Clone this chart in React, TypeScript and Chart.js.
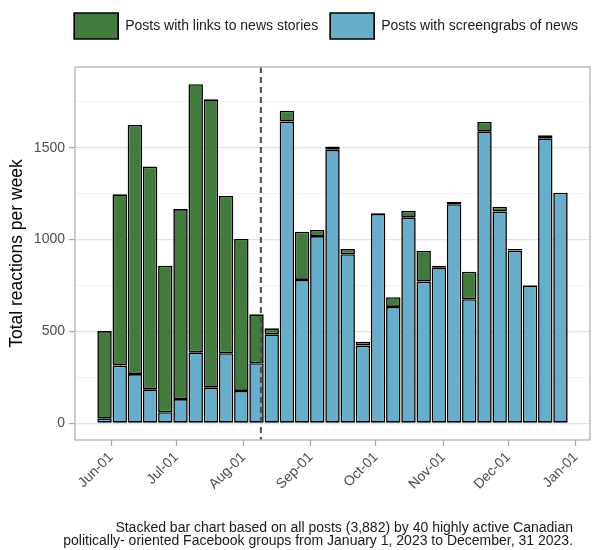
import { useEffect, useRef } from 'react';
import { Chart, registerables } from 'chart.js';

Chart.register(...registerables);

// ---- Data ----
const weekStarts = [
  '2023-05-29', '2023-06-05', '2023-06-12', '2023-06-19', '2023-06-26',
  '2023-07-03', '2023-07-10', '2023-07-17', '2023-07-24', '2023-07-31',
  '2023-08-07', '2023-08-14', '2023-08-21', '2023-08-28', '2023-09-04',
  '2023-09-11', '2023-09-18', '2023-09-25', '2023-10-02', '2023-10-09',
  '2023-10-16', '2023-10-23', '2023-10-30', '2023-11-06', '2023-11-13',
  '2023-11-20', '2023-11-27', '2023-12-04', '2023-12-11', '2023-12-18',
  '2023-12-25',
];

const screengrabReactions = [
  25, 314, 268, 185, 60, 132, 386, 194, 381, 176,
  327, 484, 1642, 780, 1019, 1488, 920, 423, 1140, 633,
  1119, 771, 849, 1192, 675, 1587, 1152, 940, 750, 1551,
  1255,
];

const linkReactions = [
  477, 932, 1356, 1212, 798, 1034, 1459, 1569, 856, 827,
  266, 33, 59, 263, 33, 18, 29, 21, 5, 53,
  37, 167, 9, 14, 150, 53, 27, 9, 3, 17,
  0,
];

const seriesLabels = ['Posts with screengrabs of news', 'Posts with links to news stories'];

const monthTickDates = [
  '2023-06-01', '2023-07-01', '2023-08-01', '2023-09-01',
  '2023-10-01', '2023-11-01', '2023-12-01', '2024-01-01',
];
const monthTickLabels = ['Jun-01', 'Jul-01', 'Aug-01', 'Sep-01', 'Oct-01', 'Nov-01', 'Dec-01', 'Jan-01'];

const yGridValues = [0, 250, 500, 750, 1000, 1250, 1500, 1750];
const yLabelValues = [0, 500, 1000, 1500];

const banDate = '2023-08-09';

const yAxisTitle = 'Total reactions per week';
const captionLines = [
  'Stacked bar chart based on all posts (3,882) by 40 highly active Canadian',
  'politically- oriented Facebook groups from January 1, 2023 to December, 31 2023.',
];

// ---- Helpers ----
const DAY_MS = 86400000;
const ORIGIN = Date.UTC(2023, 5, 1);
const toDay = (iso: string) => (Date.parse(iso + 'T00:00:00Z') - ORIGIN) / DAY_MS;

const FONT = '"Liberation Sans", Arial, Helvetica, sans-serif';
const GREEN = '#437a3e';
const BLUE = '#68adc9';

export default function App() {
  const canvasRef = useRef<HTMLCanvasElement | null>(null);

  useEffect(() => {
    document.body.style.margin = '0';
    const canvas = canvasRef.current;
    if (!canvas) return;

    const tickDays = monthTickDates.map(toDay);
    const banDay = toDay(banDate);

    const frameAndLine = {
      id: 'frameAndLine',
      afterDatasetsDraw(chart: any) {
        const { ctx, chartArea } = chart;
        const x = chart.scales.x.getPixelForValue(banDay);
        ctx.save();
        ctx.strokeStyle = '#4a4a4a';
        ctx.lineWidth = 2;
        ctx.setLineDash([6, 4]);
        ctx.beginPath();
        ctx.moveTo(x, chartArea.top);
        ctx.lineTo(x, chartArea.bottom);
        ctx.stroke();
        ctx.setLineDash([]);
        ctx.strokeStyle = '#b8b8b8';
        ctx.lineWidth = 1.4;
        ctx.strokeRect(chartArea.left, chartArea.top, chartArea.right - chartArea.left, chartArea.bottom - chartArea.top);
        ctx.restore();
      },
      afterDraw(chart: any) {
        const { ctx } = chart;
        ctx.save();
        ctx.fillStyle = '#1a1a1a';
        ctx.font = '14px ' + FONT;
        ctx.textAlign = 'right';
        ctx.textBaseline = 'middle';
        captionLines.forEach((line, i) => {
          ctx.fillText(line, 573, 528 + i * 13.5);
        });
        ctx.restore();
      },
    };

    const barStyle = {
      borderColor: '#000000',
      borderWidth: 1.6,
      borderSkipped: false,
      barPercentage: 0.95,
      categoryPercentage: 1,
    };

    const chart = new Chart(canvas, {
      type: 'bar',
      data: {
        datasets: [
          {
            label: seriesLabels[0],
            data: weekStarts.map((d, i) => ({ x: toDay(d), y: screengrabReactions[i] })),
            backgroundColor: BLUE,
            ...barStyle,
          },
          {
            label: seriesLabels[1],
            data: weekStarts.map((d, i) => ({ x: toDay(d), y: linkReactions[i] })),
            backgroundColor: GREEN,
            ...barStyle,
          },
        ],
      },
      options: {
        animation: false,
        responsive: false,
        maintainAspectRatio: false,
        layout: { padding: { top: 1, left: 0, right: 6, bottom: 40 } },
        plugins: {
          legend: {
            display: true,
            position: 'top',
            align: 'end',
            reverse: true,
            labels: {
              boxWidth: 44,
              boxHeight: 26,
              padding: 12,
              color: '#1a1a1a',
              font: { family: FONT, size: 14 },
            },
          },
          subtitle: {
            display: true,
            text: '',
            position: 'top',
            weight: 500,
            padding: 0,
            font: { size: 18, lineHeight: 1 },
          },
          tooltip: { enabled: false },
        },
        scales: {
          x: {
            type: 'linear',
            stacked: true,
            offset: false,
            min: -16.6,
            max: 220.6,
            border: { display: false },
            grid: {
              offset: false,
              drawOnChartArea: false,
              drawTicks: true,
              tickLength: 6,
              tickColor: '#a6a6a6',
              tickWidth: 1.2,
            },
            afterBuildTicks: (scale: any) => {
              scale.ticks = tickDays.map((v) => ({ value: v }));
            },
            afterFit: (scale: any) => {
              scale.height = 70;
            },
            ticks: {
              autoSkip: false,
              minRotation: 45,
              maxRotation: 45,
              padding: 3,
              color: '#4d4d4d',
              font: { family: FONT, size: 14 },
              callback: (value: any) => {
                const idx = tickDays.indexOf(Number(value));
                return idx >= 0 ? monthTickLabels[idx] : '';
              },
            },
          },
          y: {
            type: 'linear',
            stacked: true,
            min: -91,
            max: 1939,
            border: { display: false },
            afterBuildTicks: (scale: any) => {
              scale.ticks = yGridValues.map((v) => ({ value: v }));
            },
            afterFit: (scale: any) => {
              scale.width = 75;
            },
            grid: {
              color: (c: any) => (c.tick && yLabelValues.includes(c.tick.value) ? '#e4e4e4' : '#f2f2f2'),
              lineWidth: (c: any) => (c.tick && yLabelValues.includes(c.tick.value) ? 1.2 : 1),
              drawTicks: true,
              tickLength: 6,
              tickColor: (c: any) => (c.tick && yLabelValues.includes(c.tick.value) ? '#a6a6a6' : 'rgba(0,0,0,0)'),
              tickWidth: 1.2,
            },
            ticks: {
              padding: 4,
              color: '#4d4d4d',
              font: { family: FONT, size: 14 },
              callback: (value: any) => (yLabelValues.includes(Number(value)) ? String(value) : ''),
            },
            title: {
              display: true,
              text: yAxisTitle,
              color: '#000000',
              font: { family: FONT, size: 17.5, lineHeight: 1.2 },
              padding: { top: 7, bottom: 0 },
            },
          },
        },
      },
      plugins: [frameAndLine],
    } as any);

    return () => {
      chart.destroy();
    };
  }, []);

  return (
    <div style={{ width: 596, height: 550, background: '#ffffff' }}>
      <canvas ref={canvasRef} width={596} height={550} style={{ display: 'block', width: 596, height: 550 }} />
    </div>
  );
}
